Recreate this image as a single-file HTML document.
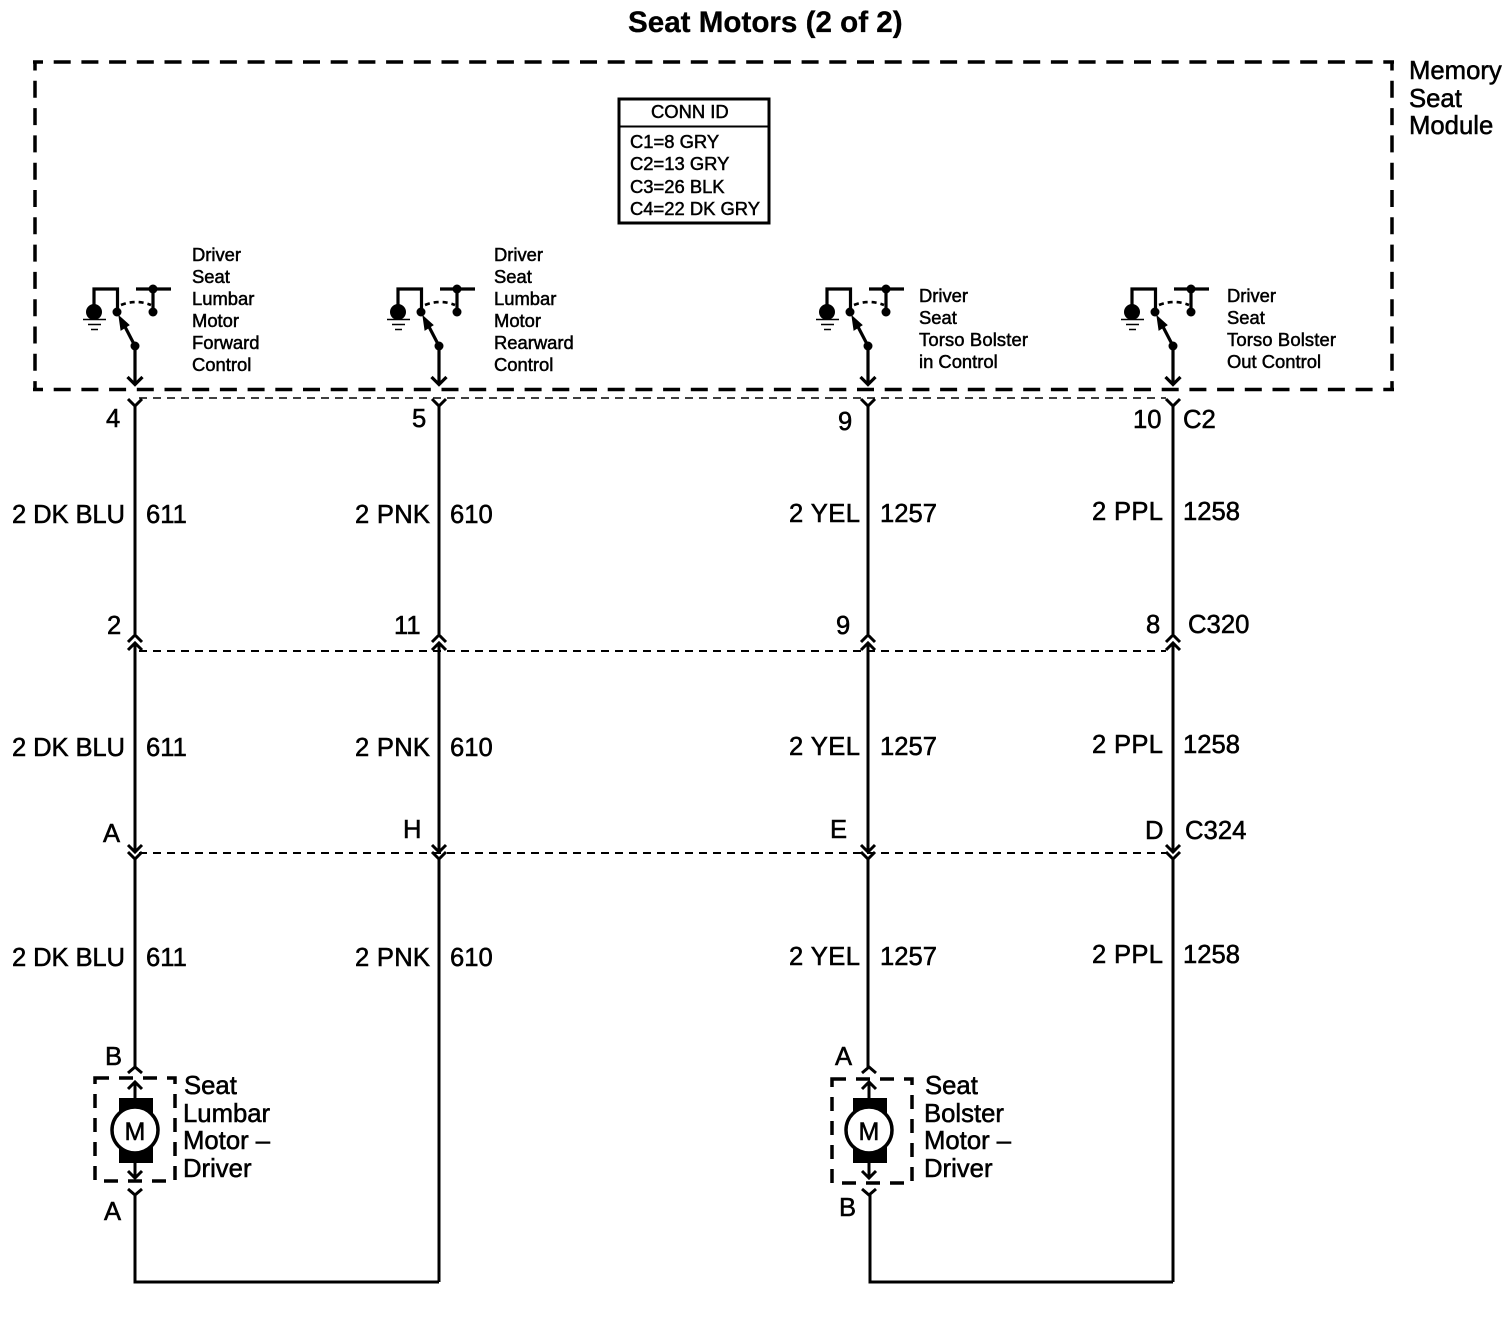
<!DOCTYPE html>
<html><head><meta charset="utf-8"><style>
html,body{margin:0;padding:0;background:#fff}
svg{display:block}
text{font-family:"Liberation Sans",sans-serif;fill:#000;stroke:#000;stroke-width:.55}
.b{font-size:25.6px}
.s{font-size:18.4px;stroke-width:.5}
.m{font-size:25.7px}
</style></head><body>
<svg width="1508" height="1328" viewBox="0 0 1508 1328" xmlns="http://www.w3.org/2000/svg">
<defs>
<g id="sw" fill="none" stroke="#000" stroke-width="3.200">
<path d="M94 312V289H117.500V311"/>
<path d="M136 289H171M153 289V312"/>
<path d="M121 305Q136 299 151 305" stroke-width="2.600" stroke-dasharray="5 4"/>
<path d="M135 346L122 321"/>
<path d="M119 316L121 330L129 325Z" fill="#000" stroke-width="1"/>
<path d="M135 346V384M127.500 377L135 384.500L142.500 377"/>
<circle cx="94" cy="312" r="8" fill="#000" stroke="none"/>
<circle cx="117" cy="312" r="4.500" fill="#000" stroke="none"/>
<circle cx="153" cy="312" r="4.500" fill="#000" stroke="none"/>
<circle cx="153" cy="289" r="4.500" fill="#000" stroke="none"/>
<circle cx="135" cy="346" r="4.500" fill="#000" stroke="none"/>
<path d="M83 319.500H106M88 324.500H101M91 329.500H98" stroke-width="1.600"/>
</g>
<g id="mot" fill="none" stroke="#000" stroke-width="3">
<path d="M-7 1073L0 1067L7 1073"/>
<path d="M-7 1089L0 1082L7 1089M0 1082V1100"/>
<path d="M0 1160V1177M-7 1171L0 1178L7 1171"/>
<rect x="-16" y="1098" width="34" height="65" fill="#000" stroke="none"/>
<circle cx="0" cy="1130" r="23" fill="#fff" stroke-width="3.500"/>
<path d="M-7 1189L0 1195L7 1189"/>
</g>
<g id="conn" fill="none" stroke="#000" stroke-width="3">
<path d="M-7 399L0 406L7 399"/>
<path d="M-7 642L0 635L7 642"/>
<path d="M-7 650L0 643L7 650"/>
<path d="M-7 845L0 852L7 845"/>
<path d="M-7 852L0 859L7 852"/>
</g>
</defs>
<rect width="1508" height="1328" fill="#fff"/>

<text x="628" y="32" font-size="29.600" font-weight="bold" style="stroke-width:.3">Seat Motors (2 of 2)</text>

<g fill="none" stroke="#000" stroke-width="3.500">
<path d="M33 62H1394" stroke-dasharray="17 10.700" stroke-dashoffset="7"/>
<path d="M33 389.500H1394" stroke-dasharray="17 10.700" stroke-dashoffset="7"/>
<path d="M35 60.500V391" stroke-dasharray="17 10.300" stroke-dashoffset="7"/>
<path d="M1392 60.500V391" stroke-dasharray="17 10.300" stroke-dashoffset="7"/>
</g>
<text class="m" x="1409" y="79">Memory</text>
<text class="m" x="1409" y="107">Seat</text>
<text class="m" x="1409" y="134">Module</text>

<rect x="619" y="99" width="150" height="124" fill="#fff" stroke="#000" stroke-width="3"/>
<path d="M619 126.500H769" stroke="#000" stroke-width="2"/>
<text class="s" x="651" y="118">CONN ID</text>
<text class="s" x="630" y="148">C1=8 GRY</text>
<text class="s" x="630" y="170">C2=13 GRY</text>
<text class="s" x="630" y="193">C3=26 BLK</text>
<text class="s" x="630" y="215">C4=22 DK GRY</text>

<use href="#sw"/>
<use href="#sw" x="304"/>
<use href="#sw" x="733"/>
<use href="#sw" x="1038"/>

<g>
<text class="s" x="192" y="261">Driver</text><text class="s" x="192" y="283">Seat</text><text class="s" x="192" y="305">Lumbar</text><text class="s" x="192" y="327">Motor</text><text class="s" x="192" y="349">Forward</text><text class="s" x="192" y="371">Control</text>
<text class="s" x="494" y="261">Driver</text><text class="s" x="494" y="283">Seat</text><text class="s" x="494" y="305">Lumbar</text><text class="s" x="494" y="327">Motor</text><text class="s" x="494" y="349">Rearward</text><text class="s" x="494" y="371">Control</text>
<text class="s" x="919" y="302">Driver</text><text class="s" x="919" y="324">Seat</text><text class="s" x="919" y="346" textLength="109">Torso Bolster</text><text class="s" x="919" y="368">in Control</text>
<text class="s" x="1227" y="302">Driver</text><text class="s" x="1227" y="324">Seat</text><text class="s" x="1227" y="346" textLength="109">Torso Bolster</text><text class="s" x="1227" y="368">Out Control</text>
</g>

<g fill="none" stroke="#000" stroke-dasharray="8 6">
<path d="M139 398H1166" stroke-width="1.500"/>
<path d="M139 651H1166" stroke-width="2"/>
<path d="M139 853H1166" stroke-width="2"/>
</g>

<g fill="none" stroke="#000" stroke-width="3">
<path d="M135 406V634M135 643V851M135 859V1067"/>
<path d="M439 406V634M439 643V851M439 859V1282"/>
<path d="M868 406V634M868 643V851M868 859V1067"/>
<path d="M1173 406V634M1173 643V851M1173 859V1282"/>
<path d="M135 1195V1282H439"/>
<path d="M870 1195V1282H1173"/>
</g>
<use href="#conn" x="135"/>
<use href="#conn" x="439"/>
<use href="#conn" x="868"/>
<use href="#conn" x="1173"/>

<use href="#mot" x="135"/>
<use href="#mot" x="869"/>
<rect x="95" y="1078" width="80" height="103" fill="none" stroke="#000" stroke-width="3.500" stroke-dasharray="14 10"/>
<rect x="832" y="1079" width="80" height="104" fill="none" stroke="#000" stroke-width="3.500" stroke-dasharray="14 10"/>
<text x="124.500" y="1140" font-size="25">M</text>
<text x="858.500" y="1140" font-size="25">M</text>

<g>
<text class="b" x="106" y="427">4</text><text class="b" x="412" y="427">5</text><text class="b" x="838" y="430">9</text><text class="b" x="1133" y="428">10</text><text class="m" x="1183" y="428">C2</text>

<text class="b" x="12" y="523" textLength="113">2 DK BLU</text><text class="b" x="146" y="523">611</text>
<text class="b" x="355" y="523" textLength="75">2 PNK</text><text class="b" x="450" y="523">610</text>
<text class="b" x="789" y="522" textLength="71">2 YEL</text><text class="b" x="880" y="522">1257</text>
<text class="b" x="1092" y="520" textLength="71">2 PPL</text><text class="b" x="1183" y="520">1258</text>

<text class="b" x="107" y="634">2</text><text class="b" x="394" y="634">11</text><text class="b" x="836" y="634">9</text><text class="b" x="1146" y="633">8</text><text class="m" x="1188" y="633">C320</text>

<text class="b" x="12" y="756" textLength="113">2 DK BLU</text><text class="b" x="146" y="756">611</text>
<text class="b" x="355" y="756" textLength="75">2 PNK</text><text class="b" x="450" y="756">610</text>
<text class="b" x="789" y="755" textLength="71">2 YEL</text><text class="b" x="880" y="755">1257</text>
<text class="b" x="1092" y="753" textLength="71">2 PPL</text><text class="b" x="1183" y="753">1258</text>

<text class="b" x="103" y="842">A</text><text class="b" x="403" y="838">H</text><text class="b" x="830" y="838">E</text><text class="b" x="1145" y="839">D</text><text class="m" x="1185" y="839">C324</text>

<text class="b" x="12" y="966" textLength="113">2 DK BLU</text><text class="b" x="146" y="966">611</text>
<text class="b" x="355" y="966" textLength="75">2 PNK</text><text class="b" x="450" y="966">610</text>
<text class="b" x="789" y="965" textLength="71">2 YEL</text><text class="b" x="880" y="965">1257</text>
<text class="b" x="1092" y="963" textLength="71">2 PPL</text><text class="b" x="1183" y="963">1258</text>

<text class="b" x="105" y="1065">B</text><text class="b" x="104" y="1220">A</text>
<text class="b" x="835" y="1065">A</text><text class="b" x="839" y="1216">B</text>

<text class="m" x="184" y="1094">Seat</text><text class="m" x="183" y="1122">Lumbar</text><text class="m" x="183" y="1149">Motor –</text><text class="m" x="183" y="1177">Driver</text>
<text class="m" x="925" y="1094">Seat</text><text class="m" x="924" y="1122">Bolster</text><text class="m" x="924" y="1149">Motor –</text><text class="m" x="924" y="1177">Driver</text>
</g>
</svg>
</body></html>
